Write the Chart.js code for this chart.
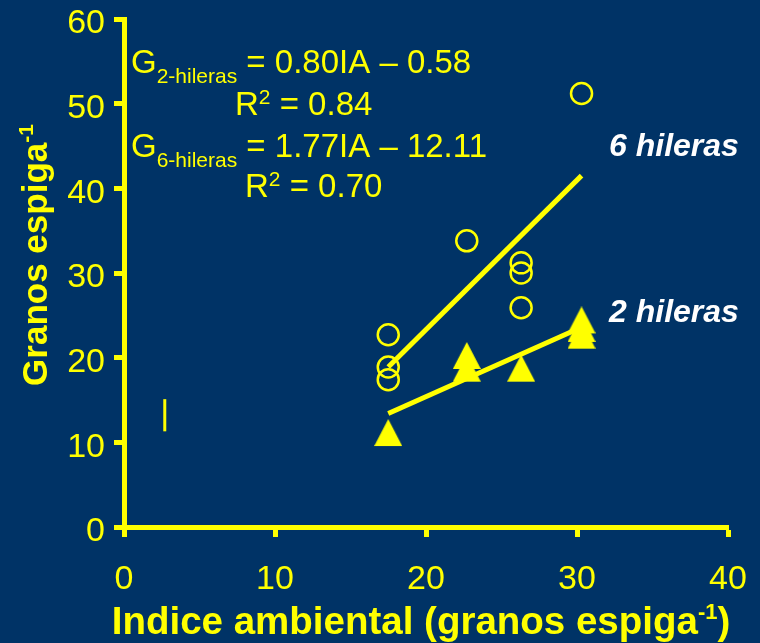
<!DOCTYPE html>
<html>
<head>
<meta charset="utf-8">
<script src="https://cdn.jsdelivr.net/npm/chart.js@4/dist/chart.umd.min.js"></script>
<style>
  html, body { margin: 0; padding: 0; background: #003366; }
</style>
</head>
<body>
<canvas id="myChart" width="760" height="643"></canvas>
<script>
// Indice ambiental y granos por espiga, cebada de 6 hileras (circulos)
var ia6 = [17.5, 17.5, 17.5, 22.7, 26.3, 26.3, 26.3, 30.3];
var granos6 = [22.7, 18.9, 17.4, 33.8, 31.2, 30.0, 25.9, 51.2];
// cebada de 2 hileras (triangulos)
var ia2 = [17.5, 22.7, 22.7, 26.3, 30.3, 30.3, 30.3];
var granos2 = [11.1, 20.2, 18.7, 18.7, 24.4, 23.4, 22.6];
// extremos de las rectas de regresion
var recta6X = [17.5, 30.3];
var recta6Y = [18.9, 41.5];
var recta2X = [17.5, 30.3];
var recta2Y = [13.4, 23.6];
// trazo suelto cerca del origen
var trazoX = [2.7, 2.7];
var trazoY = [11.3, 15.1];
// marcas de los ejes
var xTicks = [0, 10, 20, 30, 40];
var yTicks = [0, 10, 20, 30, 40, 50, 60];

const AMARILLO = '#ffff00';
const FONDO = '#003366';
const FUENTE = '"Liberation Sans", Arial, sans-serif';

Chart.defaults.font.family = FUENTE;

function puntos(xs, ys) {
    return xs.map((x, i) => ({ x: x, y: ys[i] }));
}

// triangulo relleno (un poco mas alto que equilatero)
function crearTriangulo() {
    const c = document.createElement('canvas');
    c.width = 28;
    c.height = 28;
    const g = c.getContext('2d');
    g.fillStyle = AMARILLO;
    g.beginPath();
    g.moveTo(14, 0);
    g.lineTo(28, 27);
    g.lineTo(0, 27);
    g.closePath();
    g.fill();
    return c;
}

// escribe trozos de texto seguidos (para subindices y superindices)
function escribir(ctx, x, y, partes) {
    partes.forEach(p => {
        ctx.font = (p.bold ? 'bold ' : '') + p.size + 'px ' + FUENTE;
        ctx.fillText(p.t, x, y + (p.dy || 0));
        x += ctx.measureText(p.t).width;
    });
    return x;
}

function ancho(ctx, partes) {
    let w = 0;
    partes.forEach(p => {
        ctx.font = (p.bold ? 'bold ' : '') + p.size + 'px ' + FUENTE;
        w += ctx.measureText(p.t).width;
    });
    return w;
}

const textos = {
    id: 'textos',
    beforeDraw(chart) {
        const ctx = chart.ctx;
        ctx.save();
        ctx.fillStyle = FONDO;
        ctx.fillRect(0, 0, chart.width, chart.height);
        ctx.restore();
    },
    afterDraw(chart) {
        const ctx = chart.ctx;
        ctx.save();
        ctx.fillStyle = AMARILLO;
        ctx.textBaseline = 'alphabetic';
        ctx.textAlign = 'left';

        // ecuaciones
        escribir(ctx, 131, 73, [
            { t: 'G', size: 33 },
            { t: '2-hileras', size: 21, dy: 10 },
            { t: ' = 0.80IA \u2013 0.58', size: 33 }
        ]);
        escribir(ctx, 235, 115, [
            { t: 'R', size: 33 },
            { t: '2', size: 21, dy: -11 },
            { t: ' = 0.84', size: 33 }
        ]);
        escribir(ctx, 131, 157, [
            { t: 'G', size: 33 },
            { t: '6-hileras', size: 21, dy: 10 },
            { t: ' = 1.77IA \u2013 12.11', size: 33 }
        ]);
        escribir(ctx, 245, 197, [
            { t: 'R', size: 33 },
            { t: '2', size: 21, dy: -11 },
            { t: ' = 0.70', size: 33 }
        ]);

        // titulo eje x
        const tituloX = [
            { t: 'Indice ambiental (granos espiga', size: 38.5, bold: true },
            { t: '-1', size: 22, bold: true, dy: -15 },
            { t: ')', size: 38.5, bold: true }
        ];
        escribir(ctx, 421 - ancho(ctx, tituloX) / 2, 634, tituloX);

        // titulo eje y
        const tituloY = [
            { t: 'Granos espiga', size: 35, bold: true },
            { t: '-1', size: 21, bold: true, dy: -14 }
        ];
        ctx.translate(47, 255);
        ctx.rotate(-Math.PI / 2);
        escribir(ctx, -ancho(ctx, tituloY) / 2, 0, tituloY);
        ctx.restore();

        // nombres de las series
        ctx.save();
        ctx.fillStyle = '#ffffff';
        ctx.textAlign = 'left';
        ctx.font = 'italic bold 32px ' + FUENTE;
        ctx.fillText('6 hileras', 609, 156);
        ctx.fillText('2 hileras', 609, 322);
        ctx.restore();
    }
};

const ctx = document.getElementById('myChart').getContext('2d');
const myChart = new Chart(ctx, {
    type: 'scatter',
    data: {
        datasets: [{
            label: 'Recta 6 hileras',
            data: puntos(recta6X, recta6Y),
            showLine: true,
            borderColor: AMARILLO,
            borderWidth: 5,
            pointRadius: 0
        }, {
            label: 'Recta 2 hileras',
            data: puntos(recta2X, recta2Y),
            showLine: true,
            borderColor: AMARILLO,
            borderWidth: 5,
            pointRadius: 0
        }, {
            label: 'trazo',
            data: puntos(trazoX, trazoY),
            showLine: true,
            borderColor: AMARILLO,
            borderWidth: 3,
            pointRadius: 0
        }, {
            label: '6 hileras',
            data: puntos(ia6, granos6),
            pointStyle: 'circle',
            pointRadius: 10.5,
            borderWidth: 2.5,
            borderColor: AMARILLO,
            backgroundColor: 'rgba(0,0,0,0)'
        }, {
            label: '2 hileras',
            data: puntos(ia2, granos2),
            pointStyle: crearTriangulo(),
            pointRadius: 14
        }]
    },
    options: {
        responsive: false,
        animation: false,
        layout: { padding: { left: 0, right: 32, top: 19, bottom: 0 } },
        plugins: {
            legend: { display: false },
            tooltip: { enabled: false }
        },
        scales: {
            x: {
                type: 'linear',
                min: 0,
                max: 40,
                afterBuildTicks: s => { s.ticks = xTicks.map(v => ({ value: v })); },
                afterFit: s => { s.height = 116; s.paddingLeft = 0; s.paddingRight = 0; },
                grid: { drawOnChartArea: false, tickLength: 10, tickWidth: 5, tickColor: AMARILLO, color: AMARILLO },
                border: { color: AMARILLO, width: 5 },
                ticks: { color: AMARILLO, font: { size: 34 }, padding: 22, maxRotation: 0 }
            },
            y: {
                type: 'linear',
                min: 0,
                max: 60,
                afterBuildTicks: s => { s.ticks = yTicks.map(v => ({ value: v })); },
                afterFit: s => { s.width = 124; s.paddingTop = 0; s.paddingBottom = 0; },
                grid: { drawOnChartArea: false, tickLength: 10, tickWidth: 5, tickColor: AMARILLO, color: AMARILLO },
                border: { color: AMARILLO, width: 5 },
                ticks: { color: AMARILLO, font: { size: 34 }, padding: 9, labelOffset: 5 }
            }
        }
    },
    plugins: [textos]
});
</script>
</body>
</html>
